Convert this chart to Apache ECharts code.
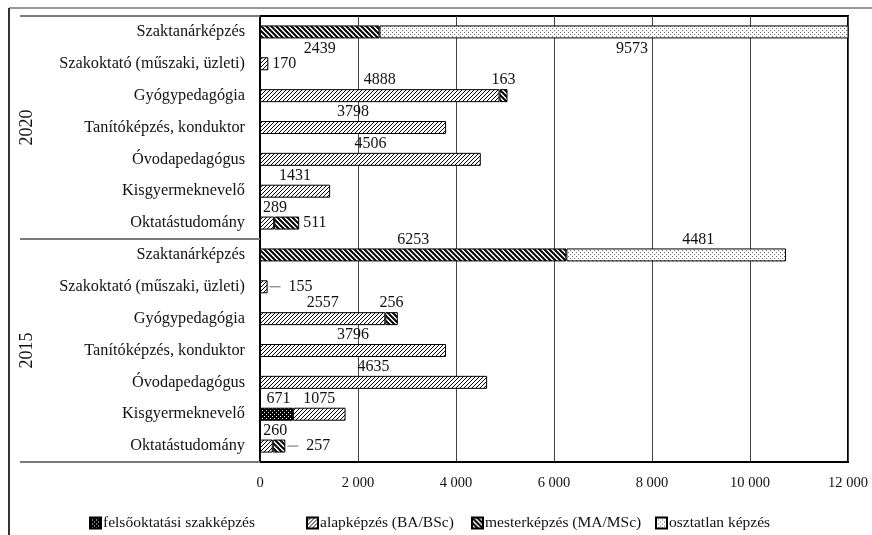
<!DOCTYPE html>
<html>
<head>
<meta charset="utf-8">
<script src="https://cdn.jsdelivr.net/npm/echarts@6/dist/echarts.min.js"></script>
<style>
  html, body { margin: 0; padding: 0; background: #fff; }
  #chart { width: 872px; height: 535px; }
</style>
</head>
<body>
<div id="chart"></div>
<script>
// Rows, top to bottom: 2020 block, then 2015 block
const programs = ['Szaktanárképzés', 'Szakoktató (műszaki, üzleti)', 'Gyógypedagógia',
  'Tanítóképzés, konduktor', 'Óvodapedagógus', 'Kisgyermeknevelő', 'Oktatástudomány'];
const years = ['2020', '2015'];
const categories = programs.concat(programs);

const seriesNames = ['felsőoktatási szakképzés', 'alapképzés (BA/BSc)',
  'mesterképzés (MA/MSc)', 'osztatlan képzés'];

// Student counts per training type (null = none)
const felsooktatasi = [null, null, null, null, null, null, null,
                       null, null, null, null, null, 671, null];
const alapkepzes    = [null, 170, 4888, 3798, 4506, 1431, 289,
                       null, 155, 2557, 3796, 4635, 1075, 260];
const mesterkepzes  = [2439, null, 163, null, null, null, 511,
                       6253, null, 256, null, null, null, 257];
const osztatlan     = [9573, null, null, null, null, null, null,
                       4481, null, null, null, null, null, null];

const xTicks = [0, 2000, 4000, 6000, 8000, 10000, 12000];

// --- fill patterns -------------------------------------------------------
function tile(size, bg, draw) {
  const c = document.createElement('canvas');
  c.width = c.height = size;
  const g = c.getContext('2d');
  g.fillStyle = bg;
  g.fillRect(0, 0, size, size);
  draw(g, size);
  return c;
}
const patDots = tile(4, '#000', (g) => {
  g.fillStyle = '#fff';
  g.fillRect(0, 0, 1, 1);
  g.fillRect(2, 2, 1, 1);
});
const patSlash = tile(4, '#fff', (g, s) => {
  g.strokeStyle = '#000'; g.lineWidth = 1;
  g.beginPath();
  g.moveTo(-1, s + 1); g.lineTo(s + 1, -1);
  g.moveTo(-1, 1); g.lineTo(1, -1);
  g.moveTo(s - 1, s + 1); g.lineTo(s + 1, s - 1);
  g.stroke();
});
const patBack = tile(5, '#fff', (g, s) => {
  g.strokeStyle = '#000'; g.lineWidth = 2;
  g.beginPath();
  g.moveTo(-1, -1); g.lineTo(s + 1, s + 1);
  g.moveTo(-1, s - 1); g.lineTo(1, s + 1);
  g.moveTo(s - 1, -1); g.lineTo(s + 1, 1);
  g.stroke();
});
const patSpeckle = tile(4, '#fff', (g) => {
  g.fillStyle = '#666';
  g.fillRect(0, 0, 1, 1);
  g.fillRect(2, 2, 1, 1);
});

// --- label placement tweaks per series/row ----------------------------
const labelTweaks = {
  'mester:0':    { position: 'bottom', distance: 2 },
  'osztatlan:0': { position: 'bottom', distance: 2, offset: [18, 0] },
  'alap:1':      { position: 'right', distance: 4 },
  'alap:6':      { offset: [8, 0] },
  'mester:6':    { position: 'right', distance: 4 },
  'osztatlan:7': { offset: [22, 0] },
  'alap:8':      { position: 'right', distance: 2, leader: true },
  'alap:13':     { offset: [9, 0] },
  'mester:13':   { position: 'right', distance: 2, leader: true },
  'felso:12':    { offset: [2, 0] }
};

const serif = 'Liberation Serif';
const labelFont = { fontFamily: serif, fontSize: 16, color: '#111' };

function buildData(key, values) {
  return values.map((v, i) => {
    if (v == null) return null;
    const t = labelTweaks[key + ':' + i] || {};
    const label = Object.assign({ show: true, position: 'top', distance: 1 }, labelFont);
    if (t.position) label.position = t.position;
    if (t.distance != null) label.distance = t.distance;
    if (t.offset) label.offset = t.offset;
    if (t.leader) {
      label.formatter = '{ln|}  {v|{c}}';
      label.rich = {
        ln: { width: 11, height: 1, backgroundColor: '#666' },
        v: Object.assign({}, labelFont)
      };
    } else {
      label.formatter = '{c}';
    }
    return { value: v, label: label };
  });
}

function barSeries(name, key, values, pattern) {
  return {
    name: name,
    type: 'bar',
    stack: 'total',
    barWidth: 13,
    yAxisIndex: 0,
    clip: true,
    itemStyle: {
      color: { image: pattern, repeat: 'repeat' },
      borderColor: '#000',
      borderWidth: 1
    },
    emphasis: { disabled: true },
    data: buildData(key, values)
  };
}

// one legend block per series so each entry sits at its own spot
const legendLefts = [84, 301, 466, 650];
const legends = seriesNames.map((name, i) => ({
  top: 510, left: legendLefts[i],
  itemWidth: 11, itemHeight: 11,
  icon: 'rect',
  selectedMode: false,
  textStyle: { fontFamily: serif, fontSize: 15.5, color: '#111', padding: [0, 0, 0, -3] },
  data: [name]
}));

const chart = echarts.init(document.getElementById('chart'), null, { renderer: 'canvas' });
chart.setOption({
  animation: false,
  backgroundColor: '#fff',
  grid: {
    left: 260, right: 24, top: 16, bottom: 73,
    show: true, borderColor: '#000', borderWidth: 2, backgroundColor: 'transparent'
  },
  legend: legends,
  xAxis: {
    type: 'value',
    min: xTicks[0], max: xTicks[xTicks.length - 1], interval: 2000,
    axisLine: { show: true, lineStyle: { color: '#000', width: 2 } },
    axisTick: { show: false },
    axisLabel: {
      margin: 14, fontFamily: serif, fontSize: 14.5, color: '#111',
      formatter: (v) => String(v).replace(/\B(?=(\d{3})+(?!\d))/g, ' ')
    },
    splitLine: { show: true, lineStyle: { color: '#444', width: 1 } }
  },
  yAxis: [
    {
      type: 'category',
      inverse: true,
      data: categories,
      axisLine: { show: true, lineStyle: { color: '#000', width: 2 } },
      axisTick: { show: false },
      axisLabel: { margin: 15, fontFamily: serif, fontSize: 16.3, color: '#111' }
    },
    {
      type: 'category',
      inverse: true,
      position: 'left',
      data: years,
      axisLine: { show: false },
      axisTick: { show: true, length: 240, lineStyle: { color: '#7a7a7a', width: 2 } },
      axisLabel: { rotate: 90, margin: 224, fontFamily: serif, fontSize: 18, color: '#111' },
      splitLine: { show: false }
    }
  ],
  graphic: [
    { type: 'line', shape: { x1: 9, y1: 8, x2: 872, y2: 8 }, style: { stroke: '#777', lineWidth: 1.5 }, silent: true },
    { type: 'line', shape: { x1: 9, y1: 8, x2: 9, y2: 535 }, style: { stroke: '#333', lineWidth: 2 }, silent: true }
  ],
  series: [
    barSeries(seriesNames[0], 'felso', felsooktatasi, patDots),
    barSeries(seriesNames[1], 'alap', alapkepzes, patSlash),
    barSeries(seriesNames[2], 'mester', mesterkepzes, patBack),
    barSeries(seriesNames[3], 'osztatlan', osztatlan, patSpeckle)
  ]
});
</script>
</body>
</html>
